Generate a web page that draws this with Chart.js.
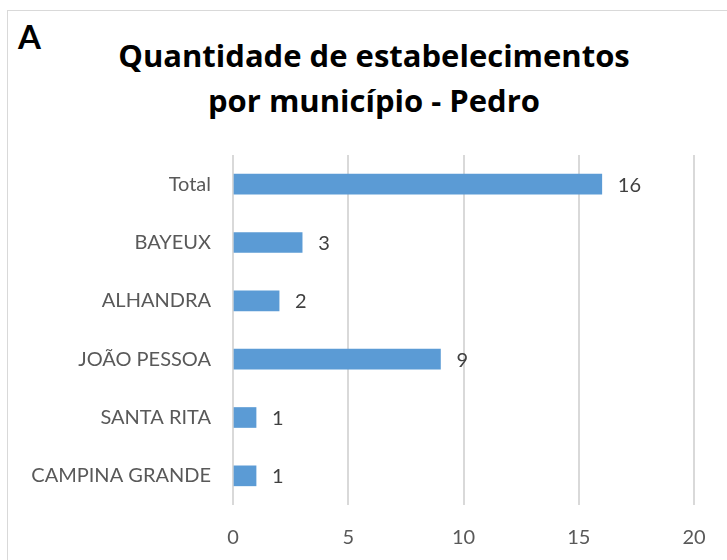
<!DOCTYPE html>
<html>
<head>
<meta charset="utf-8">
<script src="https://cdn.jsdelivr.net/npm/chart.js@4"></script>
<style>
  html, body { margin: 0; padding: 0; background: #fff; }
  #wrap { position: relative; width: 727px; height: 560px; overflow: hidden; }
  #frame { position: absolute; left: 7px; top: 10px; width: 740px; height: 580px; border: 1px solid #d9d9d9; }
  #tag { position: absolute; left: 18px; top: 16px; font: bold 33px Lato, sans-serif; color: #000; }
  #title { position: absolute; left: 74px; width: 600px; top: 33px; text-align: center;
           font: bold 31px/45px "Open Sans", sans-serif; color: #000; }
  canvas { position: absolute; left: 0; top: 0; }
</style>
</head>
<body>
<div id="wrap">
  <div id="frame"></div>
  <div id="tag">A</div>
  <div id="title"></div>
  <canvas id="barChart" width="727" height="560"></canvas>
</div>
<script>
// --- Data ---
const municipios = ['Total', 'BAYEUX', 'ALHANDRA', 'JOÃO PESSOA', 'SANTA RITA', 'CAMPINA GRANDE'];
const quantidades = [16, 3, 2, 9, 1, 1];
const titleLines = ['Quantidade de estabelecimentos', 'por município - Pedro'];
const xMin = 0, xMax = 20, xStep = 5;

document.getElementById('title').innerHTML = titleLines.join('<br>');

// --- Value labels at bar ends ---
const valueLabels = {
    id: 'valueLabels',
    afterDatasetsDraw(chart) {
        const ctx = chart.ctx;
        const meta = chart.getDatasetMeta(0);
        ctx.save();
        ctx.font = '20px Lato, sans-serif';
        ctx.fillStyle = '#404040';
        ctx.textAlign = 'left';
        ctx.textBaseline = 'middle';
        meta.data.forEach((bar, i) => {
            ctx.fillText(String(quantidades[i]), bar.x + 16, bar.y + 1);
        });
        ctx.restore();
    }
};

// --- Chart Setup ---
const ctxBar = document.getElementById('barChart').getContext('2d');
const barChart = new Chart(ctxBar, {
    type: 'bar',
    data: {
        labels: municipios,
        datasets: [{
            data: quantidades,
            backgroundColor: '#5b9bd5',
            borderWidth: 0,
            barThickness: 20
        }]
    },
    options: {
        indexAxis: 'y',
        responsive: false,
        animation: false,
        layout: { padding: { left: 0, right: 33, top: 155, bottom: 0 } },
        plugins: {
            legend: { display: false },
            tooltip: { enabled: false },
            title: { display: false }
        },
        scales: {
            x: {
                min: xMin, max: xMax,
                ticks: { stepSize: xStep, color: '#595959', font: { family: 'Lato, sans-serif', size: 20 }, padding: 21 },
                grid: { color: '#d9d9d9', lineWidth: 2, drawTicks: false },
                border: { display: false },
                afterFit(scale) { scale.height = 55; }
            },
            y: {
                ticks: { color: '#595959', font: { family: 'Lato, sans-serif', size: 20 }, padding: 22 },
                grid: { display: false, drawTicks: false },
                border: { display: false },
                afterFit(scale) { scale.width = 233; }
            }
        }
    },
    plugins: [valueLabels]
});
</script>
</body>
</html>
